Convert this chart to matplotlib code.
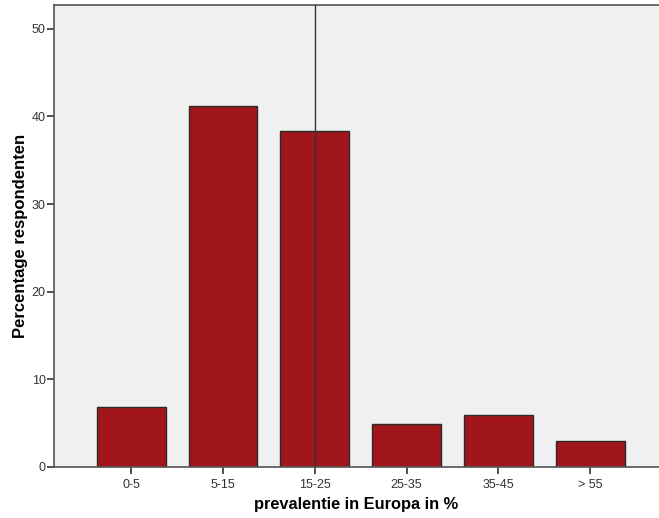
import matplotlib
matplotlib.use("Agg")
import matplotlib.pyplot as plt

# === DATA ===
categories = ["0-5", "5-15", "15-25", "25-35", "35-45", "> 55"]
percentages = [6.8, 41.2, 38.3, 4.9, 5.9, 3.0]
ref_category = "15-25"

plt.rcParams['font.family'] = ['Liberation Sans', 'DejaVu Sans']

fig = plt.figure(figsize=(6.59, 5.18), dpi=100)
ax = fig.add_axes([0.082, 0.0985, 0.918, 0.8915])
ax.set_facecolor("#f0f0f0")

x = list(range(len(categories)))
ax.bar(x, percentages, width=0.75, color="#a0161a", edgecolor="#2a2a2a", linewidth=1.0, zorder=2)
ax.axvline(categories.index(ref_category), color="#333333", linewidth=1.0, zorder=3)

ax.set_xlim(-0.84, 5.75)
ax.set_ylim(0, 52.7)
ax.set_xticks(x)
ax.set_xticklabels(categories, fontsize=9, color="#333333")
ax.set_yticks([0, 10, 20, 30, 40, 50])
ax.tick_params(axis='y', labelsize=9, labelcolor="#333333", length=5, width=1.2, color="#333333", pad=1)
ax.tick_params(axis='x', length=5, width=1.2, color="#333333", pad=4)

for side in ax.spines.values():
    side.set_color("#555555")
    side.set_linewidth(1.2)
ax.spines['right'].set_visible(False)

ax.set_xlabel("prevalentie in Europa in %", fontsize=11.8, fontweight='bold', labelpad=4)
ax.set_ylabel("Percentage respondenten", fontsize=12, fontweight='bold', labelpad=3)

fig.savefig("out.png", dpi=100)
